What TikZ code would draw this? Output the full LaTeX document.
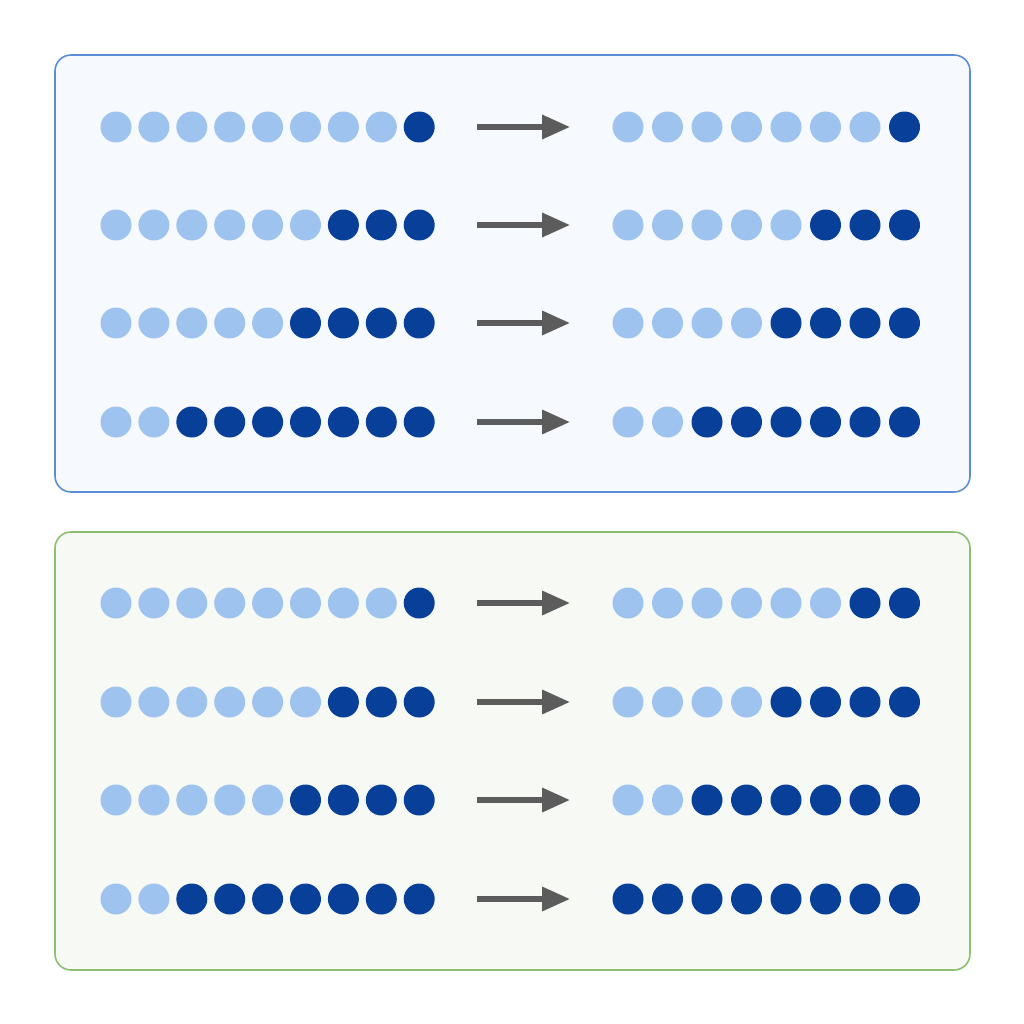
\documentclass[tikz,border=0pt]{standalone}
\usepackage{xcolor}
\usetikzlibrary{arrows.meta}

\definecolor{dotlight}{HTML}{9DC3EE}
\definecolor{dotdark}{HTML}{073F99}
\definecolor{arrowgray}{HTML}{5C5C5C}
\definecolor{blueedge}{HTML}{5B8ED6}
\definecolor{bluefill}{HTML}{F6F9FE}
\definecolor{greenedge}{HTML}{8CBF70}
\definecolor{greenfill}{HTML}{F6F9F4}

\tikzset{
  panelbox/.style={rounded corners=0.32cm, line width=0.9pt},
  dot/.style={circle, draw=none, inner sep=0pt, minimum size=0.62cm},
  flow/.style={-{Triangle[length=0.56cm, width=0.46cm]}, line width=0.12cm, draw=arrowgray,
    shorten <=0.84cm, shorten >=0.84cm}
}

\begin{document}
\begin{tikzpicture}[x=0.02cm, y=-0.02cm]
    \useasboundingbox[fill=white] (0,0) rectangle (1024,1024);
    \draw[panelbox, draw=blueedge, fill=bluefill] (55,55) rectangle (970,492);
    \draw[panelbox, draw=greenedge, fill=greenfill] (55,532) rectangle (970,970);
    % panel/row/y/light dots left/light dots right
    \foreach \p/\r/\y/\nl/\nr in {a/1/127/8/7, a/2/225/6/5, a/3/323/5/4, a/4/422/2/2,
                                   b/1/603/8/6, b/2/702/6/4, b/3/800/5/2, b/4/899/2/0} {
      \foreach \i in {1,...,9} {
        \ifnum\i>\nl\def\dotcol{dotdark}\else\def\dotcol{dotlight}\fi
        \node[dot, fill=\dotcol] (\p\r-L\i) at ({116+(\i-1)*37.9},\y) {};
      }
      \foreach \i in {1,...,8} {
        \ifnum\i>\nr\def\dotcol{dotdark}\else\def\dotcol{dotlight}\fi
        \node[dot, fill=\dotcol] (\p\r-R\i) at ({628+(\i-1)*39.5},\y) {};
      }
      \draw[flow] (\p\r-L9) -- (\p\r-R1);
    }
\end{tikzpicture}
\end{document}
